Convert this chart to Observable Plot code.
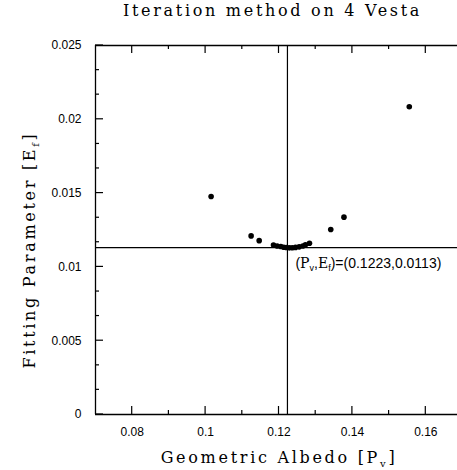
<!DOCTYPE html>
<html><head><meta charset="utf-8">
<script src="https://cdn.jsdelivr.net/npm/d3@7"></script>
<script src="https://cdn.jsdelivr.net/npm/@observablehq/plot@0.6"></script>
<style>
body{margin:0;background:#fff;overflow:hidden}
#title{font-family:"DejaVu Serif",serif;font-size:16px;letter-spacing:2.7px;height:26px;line-height:20px;padding-top:1px;box-sizing:border-box;text-align:center;padding-left:88px;width:457px;color:#000;white-space:nowrap}
</style></head><body>
<div id="title">Iteration method on 4 Vesta</div>
<div id="chart"></div>
<script>
const albedo   = [0.1015, 0.1124, 0.1146, 0.1185, 0.1195, 0.1205, 0.1213, 0.1220, 0.1228, 0.1236, 0.1245, 0.1255, 0.1265, 0.1272, 0.1283, 0.1341, 0.1377, 0.1555];
const fitParam = [0.01477, 0.01210, 0.01178, 0.01148, 0.01142, 0.01138, 0.01133, 0.01131, 0.01129, 0.01130, 0.01132, 0.01136, 0.01142, 0.01150, 0.01160, 0.01253, 0.01337, 0.02085];
const xTicks = [0.08, 0.10, 0.12, 0.14, 0.16];
const xMinor = [0.09, 0.11, 0.13, 0.15];
const yTicks = [0, 0.005, 0.01, 0.015, 0.02, 0.025];
const yMinor = [0.00167, 0.00333, 0.00667, 0.00833, 0.01167, 0.01333, 0.01667, 0.01833, 0.02167, 0.02333];
const bestPv = 0.1223;
const bestEf = 0.0113;
const xDomain = [0.07, 0.17];
const yDomain = [0, 0.025];

const points = albedo.map((x, i) => ({x, y: fitParam[i]}));
const best = [{x: bestPv, y: bestEf}];

const plot = Plot.plot({
  width: 457, height: 444,
  marginTop: 19, marginBottom: 56, marginLeft: 95, marginRight: 0,
  style: {fontFamily: "'Liberation Sans', Arial, sans-serif", fontSize: "12px", color: "#000", background: "#fff", overflow: "hidden"},
  x: {domain: xDomain, range: [95, 462]},
  y: {domain: yDomain},
  marks: [
    // frame
    Plot.ruleY(yDomain, {stroke: "#000", strokeWidth: 1.3}),
    Plot.ruleX(xDomain, {stroke: "#000", strokeWidth: 1.3}),
    // tick labels
    Plot.axisX(xTicks, {anchor: "bottom", tickSize: 0, tickPadding: 13, tickFormat: d => String(d), label: null}),
    Plot.axisY(yTicks, {anchor: "left", tickSize: 0, tickPadding: 14, tickFormat: d => String(d), label: null}),
    // best-fit cross hairs
    Plot.ruleX([bestPv], {stroke: "#000", strokeWidth: 1.2}),
    Plot.ruleY([bestEf], {stroke: "#000", strokeWidth: 1.2}),
    Plot.dot(points, {x: "x", y: "y", r: 2.8, fill: "#000", stroke: null}),
    Plot.text(best, {x: "x", y: "y", text: d => `(Pv,Ef)=(${d.x},${d.y})`, textAnchor: "start", dx: 8, dy: 16, fontSize: 14})
  ]
});
document.getElementById("chart").append(plot);

const svg = d3.select(plot);

// inward ticks, positioned through the plot's own scales
const sx = plot.scale("x"), sy = plot.scale("y");
const X = sx.apply ? v => sx.apply(v) : d3.scaleLinear(sx.domain, sx.range);
const Y = sy.apply ? v => sy.apply(v) : d3.scaleLinear(sy.domain, sy.range);
const tg = svg.append("g").attr("stroke", "#000").attr("stroke-width", 1.2);
function ticksX(vals, yv, len) {
  tg.selectAll(null).data(vals).join("line")
    .attr("x1", d => X(d)).attr("x2", d => X(d))
    .attr("y1", Y(yv)).attr("y2", Y(yv) + len);
}
function ticksY(vals, xv, len) {
  tg.selectAll(null).data(vals).join("line")
    .attr("y1", d => Y(d)).attr("y2", d => Y(d))
    .attr("x1", X(xv)).attr("x2", X(xv) + len);
}
ticksX(xTicks, yDomain[0], -8);
ticksX(xMinor, yDomain[0], -4);
ticksX(xTicks, yDomain[1], 8);
ticksX(xMinor, yDomain[1], 4);
ticksY(yTicks, xDomain[0], 8);
ticksY(yMinor, xDomain[0], 4);

// annotation with subscripts
svg.selectAll("text").filter(function() { return this.textContent.startsWith("(Pv"); }).each(function() {
  const t = d3.select(this);
  const str = t.text();
  const tail = str.slice(str.indexOf(")"));
  t.selectAll("*").remove();
  t.text(null);
  t.append("tspan").text("(");
  t.append("tspan").attr("font-family", "'DejaVu Serif', serif").text("P");
  t.append("tspan").attr("font-size", 9).attr("dy", 3).text("v");
  t.append("tspan").attr("dy", -3).text(",");
  t.append("tspan").attr("font-family", "'DejaVu Serif', serif").text("E");
  t.append("tspan").attr("font-size", 9).attr("dy", 3).text("f");
  t.append("tspan").attr("dy", -3).text(tail);
});

// axis titles
function axisTitle(main, sub, cx, cy, rotate) {
  const g = svg.append("g").attr("transform", `translate(${cx},${cy})${rotate ? " rotate(-90)" : ""}`);
  const t = g.append("text")
    .attr("x", 0).attr("text-anchor", "middle")
    .attr("font-family", "'DejaVu Serif', serif").attr("font-size", 16)
    .attr("letter-spacing", 2.7).attr("fill", "#000");
  t.append("tspan").text(main);
  t.append("tspan").attr("font-size", 10).attr("dy", 4).text(sub);
  t.append("tspan").attr("dy", -4).text("]");
}
axisTitle("Geometric Albedo [P", "v", 279, 437, false);
axisTitle("Fitting Parameter [E", "f", 35, 224, true);
</script>
</body></html>
